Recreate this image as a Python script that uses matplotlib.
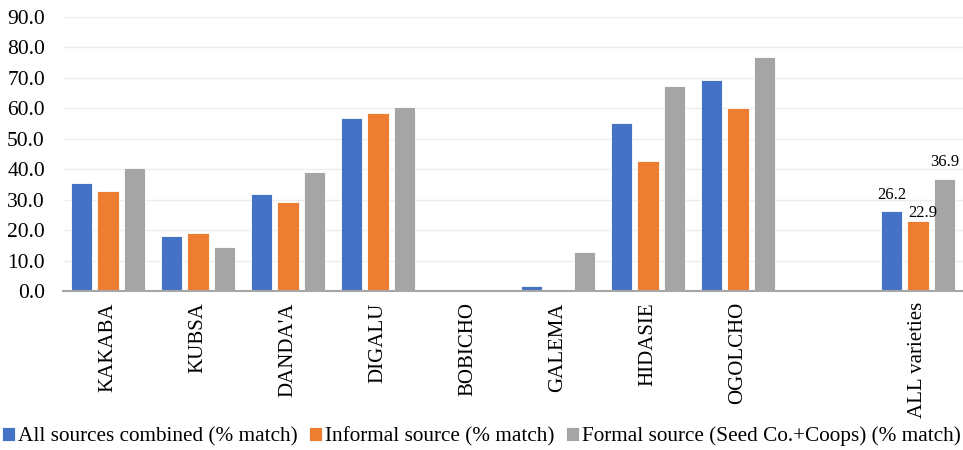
import numpy as np
import matplotlib
matplotlib.use("Agg")
import matplotlib.pyplot as plt

plt.rcParams.update({"font.family": ["Liberation Serif", "DejaVu Serif"], "font.size": 15})

# varieties; the blank slot separates the pooled group
CATEGORIES = ["KAKABA", "KUBSA", "DANDA'A", "DIGALU", "BOBICHO", "GALEMA",
              "HIDASIE", "OGOLCHO", "", "ALL varieties"]
ALL_SOURCES = [35.3, 17.9, 31.7, 56.8, 0.0, 1.5, 55.1, 69.1, np.nan, 26.2]
INFORMAL = [32.8, 18.9, 29.1, 58.5, 0.0, 0.0, 42.8, 59.9, np.nan, 22.9]
FORMAL = [40.2, 14.4, 39.2, 60.4, 0.0, 12.9, 67.1, 76.7, np.nan, 36.9]
SERIES = [("All sources combined (% match)", ALL_SOURCES, "#4472C4"),
          ("Informal source (% match)", INFORMAL, "#ED7D31"),
          ("Formal source (Seed Co.+Coops) (% match)", FORMAL, "#A5A5A5")]

fig = plt.figure(figsize=(9.63, 4.5), dpi=100)
ax = fig.add_axes([0.0654, 0.3533, 0.9346, 0.6096])

x = np.arange(len(CATEGORIES))
step, w = 0.292, 0.235
# (dx, dy) nudges for the value labels on the pooled group
nudge = [(0.0, 4.0), (0.05, 1.3), (0.0, 4.0)]
last = len(CATEGORIES) - 1
for i, (name, vals, col) in enumerate(SERIES):
    vals = np.array(vals)
    ax.bar(x + (i - 1) * step, vals, w, color=col, edgecolor="white",
           linewidth=0.6, label=name, zorder=3)
    dx, dy = nudge[i]
    ax.text(last + (i - 1) * step + dx, vals[last] + dy, f"{vals[last]:.1f}",
            ha="center", va="baseline", fontsize=12, zorder=5)

ax.set_xlim(-0.5, len(CATEGORIES) - 0.5)
ax.set_ylim(0, 90)
ax.set_yticks(np.arange(0, 91, 10))
ax.set_yticklabels([f"{v:.1f}" for v in np.arange(0, 91, 10)])
ax.set_xticks(x)
ax.set_xticklabels(CATEGORIES, rotation=90)
ax.tick_params(length=0)
ax.tick_params(axis="y", pad=13, labelsize=15.5)
ax.tick_params(axis="x", pad=8)
ax.grid(axis="y", color="#EDEDED", lw=1, zorder=0)
for s in ("top", "right", "left"):
    ax.spines[s].set_visible(False)
ax.spines["bottom"].set_color("#A6A6A6")
ax.spines["bottom"].set_linewidth(1.5)
ax.spines["bottom"].set_zorder(4)

fig.legend(loc="center", bbox_to_anchor=(0.5, 0.03), ncol=3, frameon=False,
           handlelength=0.6, handleheight=0.6, handletextpad=0.15,
           columnspacing=0.55, borderpad=0.1, fontsize=15.3)

fig.savefig("out.png", dpi=100)
